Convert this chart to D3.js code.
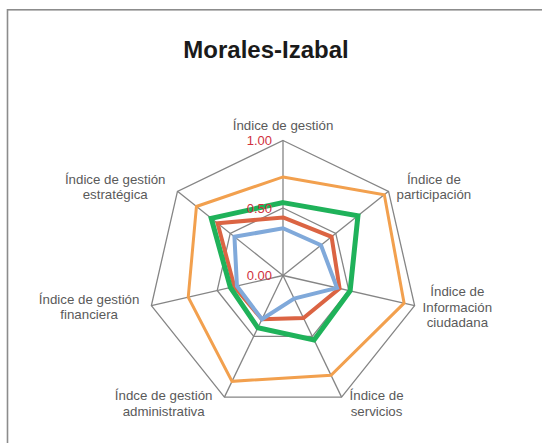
<!DOCTYPE html>
<html lang="es">
<head>
    <meta charset="UTF-8">
    <title>Morales-Izabal</title>
    <script src="https://d3js.org/d3.v7.min.js"></script>
    <style>
        body { margin: 0; background: #fff; }
        .frame { fill: none; stroke: #8c8c8c; stroke-width: 1.6px; }
        .grid { fill: none; stroke: #858585; stroke-width: 1.3px; }
        .axis-label { font-family: "Liberation Sans", Arial, sans-serif; font-size: 13.3px; fill: #5a5a5a; }
        .tick-label { font-family: "Liberation Sans", Arial, sans-serif; font-size: 13px; fill: #d0313d; }
        .title { font-family: "Liberation Sans", Arial, sans-serif; font-size: 24px; font-weight: bold; fill: #1a1a1a; }
        .series { fill: none; stroke-linejoin: miter; }
    </style>
</head>
<body>
    <div id="chart"></div>
    <script>
        const categories = [
            ['Índice de gestión'],
            ['Índice de', 'participación'],
            ['Índice de', 'Información', 'ciudadana'],
            ['Índice de', 'servicios'],
            ['Índce de gestión', 'administrativa'],
            ['Índice de gestión', 'financiera'],
            ['Índice de gestión', 'estratégica']
        ];
        const tickValues = [0, 0.5, 1];
        const tickLabels = ['0.00', '0.50', '1.00'];

        const seriesOrange = [0.73, 0.96, 0.92, 0.82, 0.87, 0.72, 0.82];
        const seriesRed    = [0.43, 0.46, 0.43, 0.35, 0.36, 0.37, 0.62];
        const seriesBlue   = [0.35, 0.36, 0.41, 0.19, 0.36, 0.35, 0.46];
        const seriesGreen  = [0.54, 0.71, 0.51, 0.53, 0.43, 0.40, 0.68];

        const series = [
            { values: seriesOrange, color: '#f2a04e', width: 3 },
            { values: seriesRed, color: '#db6443', width: 4 },
            { values: seriesBlue, color: '#80a9da', width: 4 },
            { values: seriesGreen, color: '#1fb25a', width: 5 }
        ];

        const width = 542, height = 443;
        const cx = 283, cy = 275.5, radius = 135;

        const svg = d3.select('#chart').append('svg')
            .attr('width', width)
            .attr('height', height);

        svg.append('rect')
            .attr('class', 'frame')
            .attr('x', 7.5)
            .attr('y', 9.8)
            .attr('width', 560)
            .attr('height', 460);

        svg.append('text')
            .attr('class', 'title')
            .attr('x', 266)
            .attr('y', 58)
            .attr('text-anchor', 'middle')
            .text('Morales-Izabal');

        const r = d3.scaleLinear().domain([0, 1]).range([0, radius]);
        const angle = d3.scaleLinear().domain([0, categories.length]).range([0, 2 * Math.PI]);

        const g = svg.append('g').attr('transform', `translate(${cx}, ${cy})`);

        const point = (i, v) => [Math.sin(angle(i)) * r(v), -Math.cos(angle(i)) * r(v)];

        // rings
        tickValues.filter(t => t > 0).forEach(t => {
            g.append('polygon')
                .attr('class', 'grid')
                .attr('points', categories.map((c, i) => point(i, t).join(',')).join(' '));
        });

        // spokes
        categories.forEach((c, i) => {
            const [x, y] = point(i, 1);
            g.append('line')
                .attr('class', 'grid')
                .attr('x1', 0).attr('y1', 0)
                .attr('x2', x).attr('y2', y);
        });

        const line = d3.line().curve(d3.curveLinearClosed);

        series.forEach(s => {
            g.append('path')
                .attr('class', 'series')
                .attr('stroke', s.color)
                .attr('stroke-width', s.width)
                .attr('d', line(s.values.map((v, i) => point(i, v))));
        });

        // tick labels on the first axis
        tickValues.forEach((t, k) => {
            g.append('text')
                .attr('class', 'tick-label')
                .attr('x', -11)
                .attr('y', -r(t))
                .attr('dy', '0.38em')
                .attr('text-anchor', 'end')
                .text(tickLabels[k]);
        });

        // category labels
        const lineHeight = 15.7;
        categories.forEach((lines, i) => {
            const [vx, vy] = point(i, 1);
            const dx = Math.sin(angle(i)), dy = -Math.cos(angle(i));
            const t = g.append('text')
                .attr('class', 'axis-label')
                .attr('text-anchor', 'middle');
            lines.forEach(ln => t.append('tspan').text(ln));
            const half = d3.max(t.selectAll('tspan').nodes(), n => n.getComputedTextLength()) / 2;
            let x = vx;
            if (Math.abs(dx) > 0.1) x += Math.sign(dx) * (half + (dx < 0 ? 12 : 8));
            // vertical centre of the text block
            let yc = vy + dy * 7;
            if (dy < -0.95) yc -= 8;
            const firstBase = yc - (lines.length - 1) * lineHeight / 2 + 4.5;
            t.selectAll('tspan')
                .attr('x', x)
                .attr('y', (d, j) => firstBase + j * lineHeight);
        });
    </script>
</body>
</html>
